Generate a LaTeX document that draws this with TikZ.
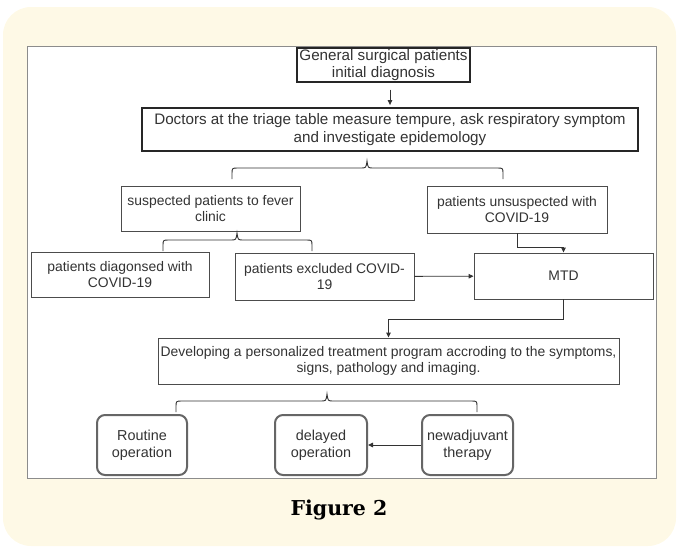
\documentclass[tikz,border=0pt]{standalone}
\usepackage{fontspec}
\setmainfont{Liberation Sans}
\newfontfamily\capfont{DejaVu Serif}
\usetikzlibrary{arrows.meta}
\definecolor{cream}{HTML}{FEF9E6}
\definecolor{ink}{HTML}{333333}

\tikzset{
  box/.style={draw=black!70, line width=0.9pt, text=ink, align=center, inner sep=2pt,
    font=\fontsize{13.9}{16}\selectfont},
  darkbox/.style={box, draw=black!85, line width=1.4pt, font=\fontsize{15.2}{17.5}\selectfont},
  roundbox/.style={box, draw=black!60, line width=2pt, rounded corners=8pt,
    minimum width=90pt, minimum height=60pt, font=\fontsize{14.4}{17}\selectfont},
  arr/.style={draw=ink, line width=0.9pt, -{Triangle[length=5pt,width=4.5pt]}},
}
% x-left, x-middle, x-right, y of the bar
\newcommand\splitbrace[4]{%
  \draw[ink, line width=0.9pt] (#1,#4+11) -- (#1,#4+6) .. controls (#1,#4) .. (#1+6,#4)
    -- (#2-6,#4) .. controls (#2-1,#4) .. (#2,#4-7) .. controls (#2+1,#4) .. (#2+6,#4)
    -- (#3-6,#4) .. controls (#3,#4) .. (#3,#4+6) -- (#3,#4+11);
}

\begin{document}
\begin{tikzpicture}[x=1pt, y=-1pt]
  \useasboundingbox (0,0) rectangle (680,549);
  \fill[cream, rounded corners=28pt] (3,7) rectangle (676,546);
  \filldraw[fill=white, draw=black!45, line width=0.8pt] (27,46) rectangle (656,478);

  \node[darkbox, minimum width=173pt, minimum height=34pt, inner sep=0pt] (gen) at (383.5,65)
    {General surgical patients\\initial diagnosis};
  \node[darkbox, line width=1.8pt, minimum width=496pt, minimum height=43pt] (doc) at (390,129.5)
    {Doctors at the triage table measure tempure, ask respiratory symptom\\and investigate epidemology};
  \node[box, minimum width=179pt, minimum height=45pt] (sus) at (210.5,208.5)
    {suspected patients to fever\\clinic};
  \node[box, minimum width=180pt, minimum height=47pt] (uns) at (517,209.5)
    {patients unsuspected with\\COVID-19};
  \node[box, minimum width=178pt, minimum height=45pt] (dia) at (120,274.5)
    {patients diagonsed with\\COVID-19};
  \node[box, minimum width=179pt, minimum height=47pt] (exc) at (324.5,276.5)
    {patients excluded COVID-\\19};
  \node[box, minimum width=179pt, minimum height=46pt] (mtd) at (563.5,276) {MTD};
  \node[box, minimum width=461pt, minimum height=46pt] (dev) at (388.5,361)
    {Developing a personalized treatment program accroding to the symptoms,\\signs, pathology and imaging.};
  \node[roundbox] (rou) at (142,445) {Routine\\operation};
  \node[roundbox, minimum width=92pt] (del) at (321,445) {delayed\\operation};
  \node[roundbox, minimum width=91pt] (neo) at (467.5,445) {newadjuvant\\therapy};

  \draw[arr, shorten <=7pt, shorten >=2pt] (doc.north |- gen.south) -- (doc.north);
  \splitbrace{232}{367}{503}{168}
  \splitbrace{163}{237}{312}{240}
  \draw[arr] (uns.south) -- ++(0,14) -| (mtd.north);
  \draw[arr] (exc) -- (mtd);
  \draw[arr] (mtd.south) -- ++(0,20) -| (dev.north);
  \splitbrace{176}{327}{477}{401}
  \draw[arr] (neo) -- (del);

  \node (cap) at (339,510) {\capfont\bfseries\fontsize{20.5}{24}\selectfont Figure 2};
\end{tikzpicture}
\end{document}
